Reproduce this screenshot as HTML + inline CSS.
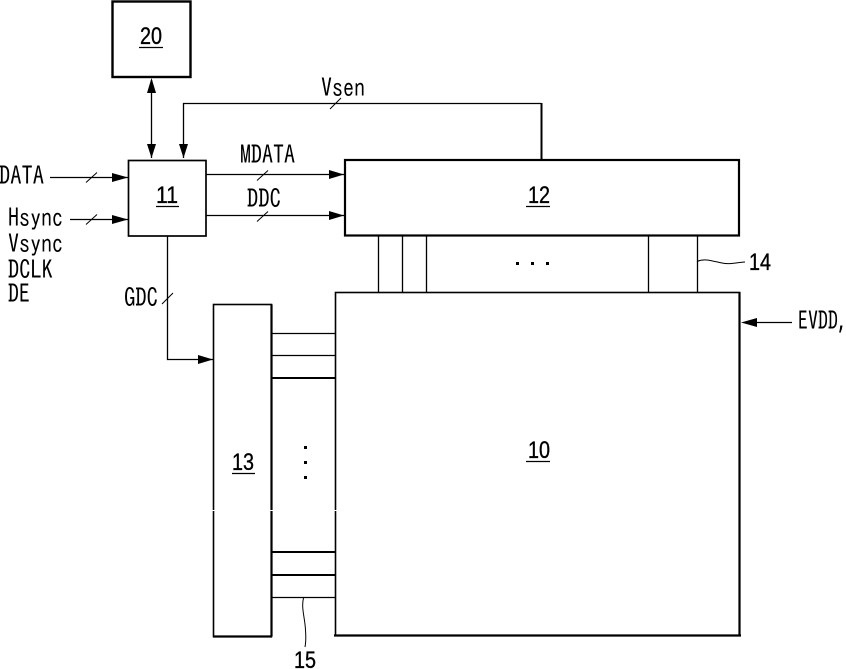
<!DOCTYPE html>
<html><head><meta charset="utf-8"><style>
html,body{margin:0;padding:0;background:#fff}
svg{display:block}
text{font-family:"IPAGothic","Liberation Sans",sans-serif;font-size:26px;fill:#000}
text.n{font-family:"Liberation Sans",sans-serif;font-size:24px;stroke:#000;stroke-width:.35}
</style></head><body>
<svg width="846" height="669" viewBox="0 0 846 669" xmlns="http://www.w3.org/2000/svg">
<g fill="none" stroke="#000" stroke-width="1.3">
<rect x="112.500" y="1.500" width="78" height="75.500" stroke-width="2.400"/>
<rect x="128.500" y="160.500" width="77.500" height="75.500" stroke-width="1.700"/>
<rect x="345" y="160" width="394" height="75.500" stroke-width="2.200"/>
<rect x="335.500" y="292.500" width="404" height="343" stroke-width="1.600"/>
<rect x="213.500" y="304.500" width="58" height="332" stroke-width="1.600"/>
<path d="M271.500 304.500V636.500M213 636.500H272M739.500 292V636.500M334 635.500H741" stroke-width="2.200"/>
<path d="M151.500 80V158M183.500 158V103.500H541.500M50 177.500H128M70 219.500H128M206 174.500H344M206 215.500H344M167.500 236V359.500H213M745 322.500H792"/>
<path d="M541.500 103V159" stroke-width="2"/>
<path d="M378.500 236V292M402.500 236V292M426.500 236V292M648.500 236V292M697.500 236V292"/>
<path d="M272 333.500H335M272 355.500H335M272 597.500H335"/>
<path d="M272 378H335M272 552H335M272 575H335" stroke-width="2"/>
<path d="M86 182.500L97 172.500M86 224.500L97 214.500M257 180.500L268 170.500M257 221.500L268 211.500M162 304L173 293M330 109L341 98" stroke-width="1"/>
<path d="M697 261.500C705 258 712 261 722 263C729 264.500 733 263 745 262" stroke-width="1"/>
<path d="M303.500 598C301 608 305 618 305.500 630C306 637 306 642 305 647" stroke-width="1"/>
<path d="M139 47.500H163M156 206.500H179M526 206.500H550M526 461.500H550M232 473.500H255"/>
</g>
<g fill="#000">
<path d="M151.500 78L147 93H156ZM151.500 158L147 144H156ZM183.500 158L179 144H188ZM128 177.500L112 173V182ZM128 219.500L112 215V224ZM344 174.500L329 170V179ZM344 215.500L329 211V220ZM213 359.500L198 355V364ZM741 322.500L757 318V327Z"/>
<rect x="516" y="262" width="3" height="3"/><rect x="531" y="262" width="3" height="3"/><rect x="546" y="262" width="3" height="3"/>
<rect x="304" y="446" width="3" height="3"/><rect x="304" y="461" width="3" height="3"/><rect x="304" y="476" width="3" height="3"/>
</g>
<rect x="205" y="510" width="140" height="1" fill="#fff"/>
<text class="n" x="140" y="44" textLength="22" lengthAdjust="spacingAndGlyphs">20</text>
<text class="n" x="156" y="203" textLength="22" lengthAdjust="spacingAndGlyphs">11</text>
<text class="n" x="528" y="203" textLength="22" lengthAdjust="spacingAndGlyphs">12</text>
<text class="n" x="232" y="470" textLength="22" lengthAdjust="spacingAndGlyphs">13</text>
<text class="n" x="528" y="458" textLength="22" lengthAdjust="spacingAndGlyphs">10</text>
<text x="321" y="97" textLength="44" lengthAdjust="spacingAndGlyphs">Vsen</text>
<text x="240" y="164" textLength="55" lengthAdjust="spacingAndGlyphs">MDATA</text>
<text x="247" y="208" textLength="34" lengthAdjust="spacingAndGlyphs">DDC</text>
<text x="-1" y="185" textLength="45" lengthAdjust="spacingAndGlyphs">DATA</text>
<text x="8" y="227" textLength="55" lengthAdjust="spacingAndGlyphs">Hsync</text>
<text x="8" y="253" textLength="55" lengthAdjust="spacingAndGlyphs">Vsync</text>
<text x="8" y="279" textLength="45" lengthAdjust="spacingAndGlyphs">DCLK</text>
<text x="8" y="303" textLength="22" lengthAdjust="spacingAndGlyphs">DE</text>
<text x="124" y="307" textLength="34" lengthAdjust="spacingAndGlyphs">GDC</text>
<text class="n" x="749" y="270" textLength="22" lengthAdjust="spacingAndGlyphs">14</text>
<text x="798" y="330" textLength="50" lengthAdjust="spacingAndGlyphs">EVDD,</text>
<text class="n" x="294" y="668" textLength="22" lengthAdjust="spacingAndGlyphs">15</text>
</svg>
</body></html>
